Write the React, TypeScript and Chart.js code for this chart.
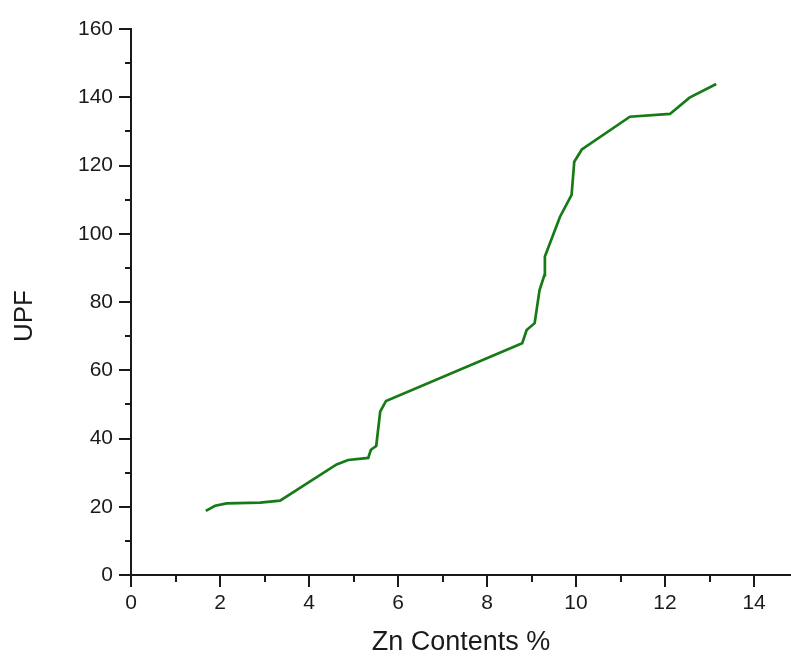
import React, { useEffect, useRef } from "react";
import { Chart, registerables } from "chart.js";

Chart.register(...registerables);

const znContents: number[] = [
  1.68, 1.89, 2.15, 2.9, 3.35, 4.62, 4.88, 5.33, 5.39, 5.51, 5.6, 5.73,
  8.79, 8.89, 9.07, 9.18, 9.29, 9.3, 9.64, 9.9, 9.96, 10.13, 11.21, 12.11,
  12.55, 13.15,
];
const upfValues: number[] = [
  18.8, 20.3, 21.0, 21.2, 21.8, 32.4, 33.7, 34.3, 36.7, 37.8, 47.9, 51.0,
  67.9, 71.8, 73.8, 83.5, 87.9, 93.3, 105.0, 111.4, 121.1, 124.7, 134.3,
  135.1, 139.9, 143.9,
];
const xMajorTicks: number[] = [0, 2, 4, 6, 8, 10, 12, 14];
const xMinorTicks: number[] = [1, 3, 5, 7, 9, 11, 13];
const yMajorTicks: number[] = [0, 20, 40, 60, 80, 100, 120, 140, 160];
const yMinorTicks: number[] = [10, 30, 50, 70, 90, 110, 130, 150];
const xTitle = "Zn Contents %";
const yTitle = "UPF";

const FONT = "'Liberation Sans', Arial, sans-serif";

const tickPlugin = {
  id: "axisTicks",
  afterDraw(chart: any) {
    const ctx = chart.ctx;
    const xs = chart.scales.x;
    const ys = chart.scales.y;
    const area = chart.chartArea;
    ctx.save();
    ctx.strokeStyle = "#1a1a1a";
    ctx.lineWidth = 2;
    ctx.beginPath();
    xMajorTicks.forEach((v) => {
      const px = Math.round(xs.getPixelForValue(v));
      ctx.moveTo(px, area.bottom);
      ctx.lineTo(px, area.bottom + 12);
    });
    xMinorTicks.forEach((v) => {
      const px = Math.round(xs.getPixelForValue(v));
      ctx.moveTo(px, area.bottom);
      ctx.lineTo(px, area.bottom + 7);
    });
    yMajorTicks.forEach((v) => {
      const py = Math.round(ys.getPixelForValue(v));
      ctx.moveTo(area.left, py);
      ctx.lineTo(area.left - 12, py);
    });
    yMinorTicks.forEach((v) => {
      const py = Math.round(ys.getPixelForValue(v));
      ctx.moveTo(area.left, py);
      ctx.lineTo(area.left - 6, py);
    });
    ctx.stroke();

    // y-axis title, placed slightly below the plot centre as in the reference
    const cy = (area.top + area.bottom) / 2 + 14;
    ctx.translate(25, cy);
    ctx.rotate(-Math.PI / 2);
    ctx.fillStyle = "#1a1a1a";
    ctx.font = `26px ${FONT}`;
    ctx.textAlign = "center";
    ctx.textBaseline = "middle";
    ctx.fillText(yTitle, 0, 0);
    ctx.restore();
  },
};

export default function App() {
  const canvasRef = useRef<HTMLCanvasElement | null>(null);

  useEffect(() => {
    document.body.style.margin = "0";
    const canvas = canvasRef.current;
    if (!canvas) return;
    const points = znContents.map((x, i) => ({ x, y: upfValues[i] }));
    const chart = new Chart(canvas, {
      type: "scatter",
      data: {
        datasets: [
          {
            data: points,
            showLine: true,
            borderColor: "#167a16",
            backgroundColor: "#167a16",
            borderWidth: 2.7,
            pointRadius: 0,
            tension: 0,
          },
        ],
      },
      options: {
        animation: false,
        responsive: false,
        maintainAspectRatio: false,
        layout: { padding: { top: 29, right: 0, left: 0, bottom: 0 } },
        plugins: { legend: { display: false }, tooltip: { enabled: false } },
        scales: {
          x: {
            type: "linear",
            min: 0,
            max: 14.83,
            afterBuildTicks: (scale: any) => {
              scale.ticks = xMajorTicks.map((v) => ({ value: v }));
            },
            afterFit: (scale: any) => {
              scale.height = 81;
            },
            ticks: {
              autoSkip: false,
              maxRotation: 0,
              padding: 4,
              color: "#1a1a1a",
              font: { family: FONT, size: 21 },
              callback: (v: any) => String(v),
            },
            grid: {
              display: true,
              drawOnChartArea: false,
              drawTicks: true,
              tickLength: 12,
              color: "rgba(0,0,0,0)",
            },
            border: { display: true, color: "#1a1a1a", width: 2 },
            title: {
              display: true,
              text: xTitle,
              color: "#1a1a1a",
              font: { family: FONT, size: 27, lineHeight: 1 },
              padding: { top: 0, bottom: 0 },
            },
          },
          y: {
            type: "linear",
            min: 0,
            max: 160,
            afterBuildTicks: (scale: any) => {
              scale.ticks = yMajorTicks.map((v) => ({ value: v }));
            },
            afterFit: (scale: any) => {
              scale.width = 131;
            },
            ticks: {
              autoSkip: false,
              padding: 6,
              color: "#1a1a1a",
              font: { family: FONT, size: 21 },
              callback: (v: any) => String(v),
            },
            grid: {
              display: true,
              drawOnChartArea: false,
              drawTicks: true,
              tickLength: 12,
              color: "rgba(0,0,0,0)",
            },
            border: { display: true, color: "#1a1a1a", width: 2 },
            title: { display: false },
          },
        },
      },
      plugins: [tickPlugin],
    });
    return () => chart.destroy();
  }, []);

  return (
    <div style={{ width: 791, height: 656, background: "#fff" }}>
      <canvas ref={canvasRef} width={791} height={656} style={{ display: "block" }} />
    </div>
  );
}
